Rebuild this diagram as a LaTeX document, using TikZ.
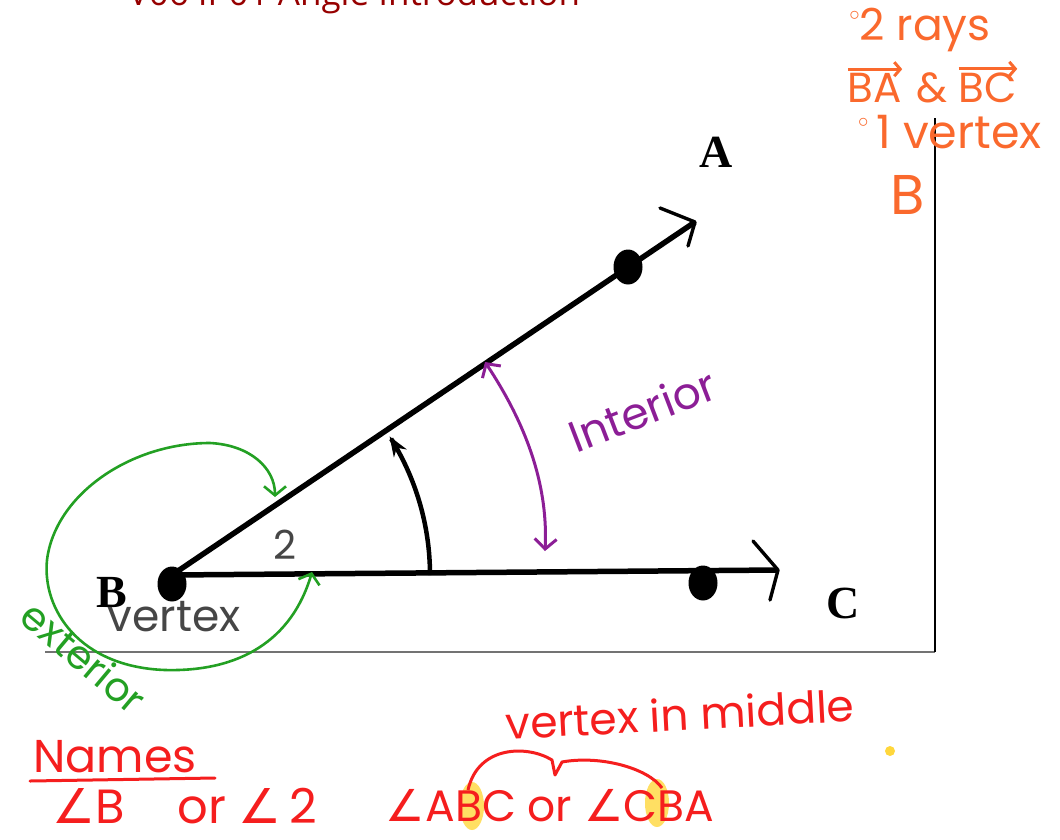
\documentclass[tikz,border=0pt]{standalone}
\usepackage{fontspec}
\setmainfont{Liberation Serif}
\newfontfamily\handf{Poppins}
\newfontfamily\symf{DejaVu Sans}
\newfontfamily\titlef{Open Sans}
\usetikzlibrary{arrows.meta,shapes.geometric}
\definecolor{inkorange}{RGB}{250,105,45}
\definecolor{inkred}{RGB}{245,30,30}
\definecolor{inkpurple}{RGB}{140,30,150}
\definecolor{inkgreen}{RGB}{35,160,35}
\definecolor{inkgray}{RGB}{70,70,70}
\definecolor{titlered}{RGB}{150,0,0}
\definecolor{hilite}{RGB}{255,215,60}
\tikzset{
  ray/.style={line width=5.5pt, black},
  barb/.style={line width=3.4pt, black, line cap=round, line join=round},
  dot/.style={ellipse, fill=black, minimum width=29pt, minimum height=35pt, inner sep=0pt},
  ptlabel/.style={font=\bfseries\fontsize{46}{50}\selectfont, inner sep=0pt},
  hand/.style={font=\handf\fontsize{#1}{#1}\selectfont, inner sep=0pt},
  hand/.default=38,
  note/.style={hand=#1, text=inkorange},
  note/.default=40,
  redtxt/.style={hand=#1, text=inkred},
  redtxt/.default=40,
}
\newcommand{\ang}{{\symf\char"2220}}
\newcommand{\bul}{\raisebox{0.45em}{\fontsize{20}{20}\selectfont$\circ$}}
\begin{document}
\begin{tikzpicture}[x=1pt,y=-1pt]
\useasboundingbox (0,0) rectangle (1060,839);
% title (cut off at top)
\node[font=\titlef\fontsize{35}{35}\selectfont, text=titlered, anchor=base] (title) at (354,5) {V06 II-01 Angle Introduction};
% frame
\coordinate (f1) at (45,652);
\coordinate (f2) at (935,652);
\coordinate (f3) at (935,118);
\draw[line width=1.2pt, black!55] (f1) -- (f2);
\draw[line width=1.6pt, black] (f2) -- (f3);
% rays
\coordinate (B) at (172,575);
\coordinate (Aend) at (695,222);
\coordinate (Cend) at (778,570);
\coordinate (Ab1) at (660,208);
\coordinate (Ab2) at (688,246);
\coordinate (Cb1) at (753,541);
\coordinate (Cb2) at (770,600);
\draw[ray] (B) -- (Aend);
\draw[ray] (B) -- (Cend);
\draw[barb] (Ab1) -- (Aend) -- (Ab2);
\draw[barb] (Cb1) -- (Cend) -- (Cb2);
\node[dot] (dB) at (172,584) {};
\node[dot] (dA) at (628,267) {};
\node[dot] (dC) at (703,583) {};
\node[ptlabel] (lA) at (716,152) {A};
\node[ptlabel] (lC) at (843,603) {C};
\node[ptlabel] (lB) at (112,592) {B};
% angle arc
\draw[line width=4.5pt, -{Stealth[length=20pt,width=15pt]}] plot[domain=0:32.5, samples=40, smooth] ({172+258*cos(\x)},{575-258*sin(\x)});
% purple interior
\coordinate (p1) at (485,362);
\coordinate (p2) at (545,551);
\draw[inkpurple, line width=3pt, {Straight Barb[length=10pt,width=22pt]}-{Straight Barb[length=10pt,width=22pt]}] (p1) .. controls (530,430) and (548,490) .. (p2);
\node[hand=44, text=inkpurple, rotate=21] (interior) at (642,410) {Interior};
% gray labels
\node[hand=40, text=inkgray] (two) at (285,545) {2};
\node[hand=44, text=inkgray] (vertex) at (174,617) {vertex};
% green exterior loop
\coordinate (g1) at (312,572);
\coordinate (g2) at (275,497);
\draw[inkgreen, line width=2.6pt, {Straight Barb[length=9pt,width=22pt]}-{Straight Barb[length=9pt,width=22pt]}] (g1) .. controls (292,640) and (240,672) .. (165,670) .. controls (80,667) and (42,610) .. (47,560) .. controls (55,495) and (130,443) .. (210,443) .. controls (250,445) and (275,468) .. (g2);
\node[hand=40, text=inkgreen, rotate=-40] (exterior) at (84,657) {exterior};
% orange notes
\node[note=44] (n1) at (920,30) {\bul2 rays};
\node[note=42] (ba) at (875,88) {BA};
\node[note=42] (amp) at (932,88) {\&};
\node[note=42] (bc) at (988,88) {BC};
\draw[inkorange, line width=3pt, -{Straight Barb[length=6pt,width=14pt]}] ([yshift=4pt]ba.north west) -- ([yshift=4pt]ba.north east);
\draw[inkorange, line width=3pt, -{Straight Barb[length=6pt,width=14pt]}] ([yshift=4pt]bc.north west) -- ([yshift=4pt]bc.north east);
\node[note=46] (n3) at (950,132) {\bul\,1 vertex};
\node[note=56] (n4) at (908,195) {B};
% red names
\node[redtxt=46] (names) at (115,757) {Names};
\coordinate (u1) at (30,781);
\coordinate (u2) at (215,778);
\draw[inkred, line width=3pt, line cap=round] (u1) -- (u2);
\fill[hilite, opacity=0.8] (472,806) ellipse (12 and 24);
\fill[hilite, opacity=0.8] (657,803) ellipse (12 and 24);
\node[redtxt=48] (n5) at (185,806) {\ang B\hspace{1.1em}or\hspace{0.25em}\ang\,2};
\node[redtxt=44] (n6) at (550,806) {\ang ABC or \ang CBA};
\node[redtxt=44, rotate=3] (mid) at (680,714) {vertex in middle};
\coordinate (b1) at (468,790);
\coordinate (b2) at (662,788);
\draw[inkred, line width=3pt, line join=round] (b1) .. controls (478,745) and (528,745) .. (552,760) -- (555,775) -- (562,762) .. controls (600,755) and (648,768) .. (b2);
\fill[hilite] (890,751) circle (5);
\end{tikzpicture}
\end{document}
